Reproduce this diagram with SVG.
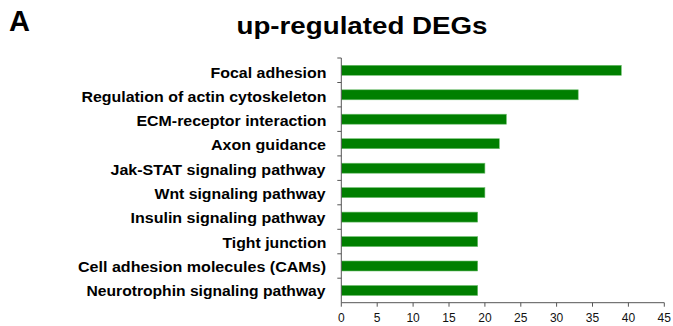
<svg xmlns="http://www.w3.org/2000/svg" width="673" height="326" viewBox="0 0 673 326">
  <style>
    .panel { font-family: "Liberation Sans", Arial, sans-serif; font-weight: bold; font-size: 29px; fill: #000; }
    .title { font-family: "Liberation Sans", Arial, sans-serif; font-weight: bold; font-size: 24px; fill: #000; }
    .cat { font-family: "Liberation Sans", Arial, sans-serif; font-weight: bold; font-size: 14.5px; fill: #000; text-anchor: end; }
    .tick-label { font-family: "Liberation Sans", Arial, sans-serif; font-size: 12px; fill: #111; text-anchor: middle; }
    .bar { fill: #007f00; stroke: #6fbf6f; stroke-width: 0.6; }
    .axis { stroke: #555; stroke-width: 1; fill: none; }
  </style>

  <text class="panel" x="9" y="31">A</text>
  <text class="title" x="236.5" y="33.5" textLength="251" lengthAdjust="spacingAndGlyphs">up-regulated DEGs</text>

  <!-- category labels -->
  <g id="labels">
    <text class="cat" x="326.5" y="77.5" textLength="116" lengthAdjust="spacingAndGlyphs">Focal adhesion</text>
    <text class="cat" x="326.5" y="101.8" textLength="245" lengthAdjust="spacingAndGlyphs">Regulation of actin cytoskeleton</text>
    <text class="cat" x="326.5" y="126.1" textLength="190" lengthAdjust="spacingAndGlyphs">ECM-receptor interaction</text>
    <text class="cat" x="326" y="150.4" textLength="115" lengthAdjust="spacingAndGlyphs">Axon guidance</text>
    <text class="cat" x="325.5" y="174.7" textLength="215" lengthAdjust="spacingAndGlyphs">Jak-STAT signaling pathway</text>
    <text class="cat" x="325.5" y="199.0" textLength="171" lengthAdjust="spacingAndGlyphs">Wnt signaling pathway</text>
    <text class="cat" x="325.5" y="223.3" textLength="195" lengthAdjust="spacingAndGlyphs">Insulin signaling pathway</text>
    <text class="cat" x="326.5" y="247.6" textLength="104" lengthAdjust="spacingAndGlyphs">Tight junction</text>
    <text class="cat" x="326" y="271.9" textLength="248" lengthAdjust="spacingAndGlyphs">Cell adhesion molecules (CAMs)</text>
    <text class="cat" x="325.5" y="296.2" textLength="239" lengthAdjust="spacingAndGlyphs">Neurotrophin signaling pathway</text>
  </g>

  <!-- bars: 7.18 px per unit from x=341.3 -->
  <g id="bars">
    <rect class="bar" x="341.3" y="65.3" width="280.0" height="10"/>
    <rect class="bar" x="341.3" y="89.8" width="236.9" height="10"/>
    <rect class="bar" x="341.3" y="114.2" width="165.1" height="10"/>
    <rect class="bar" x="341.3" y="138.7" width="158.0" height="10"/>
    <rect class="bar" x="341.3" y="163.2" width="143.6" height="10"/>
    <rect class="bar" x="341.3" y="187.6" width="143.6" height="10"/>
    <rect class="bar" x="341.3" y="212.1" width="136.4" height="10"/>
    <rect class="bar" x="341.3" y="236.6" width="136.4" height="10"/>
    <rect class="bar" x="341.3" y="261.0" width="136.4" height="10"/>
    <rect class="bar" x="341.3" y="285.5" width="136.4" height="10"/>
  </g>

  <!-- axes -->
  <g id="axes">
    <path class="axis" d="M341.3,58 V302.7 H664.3"/>
    <path class="axis" d="M337.3,58 H341.3 M337.3,82.5 H341.3 M337.3,106.9 H341.3 M337.3,131.4 H341.3 M337.3,155.9 H341.3 M337.3,180.4 H341.3 M337.3,204.8 H341.3 M337.3,229.3 H341.3 M337.3,253.8 H341.3 M337.3,278.2 H341.3"/>
    <path class="axis" d="M341.3,302.7 V306.7 M377.2,302.7 V306.7 M413.1,302.7 V306.7 M449.0,302.7 V306.7 M484.9,302.7 V306.7 M520.8,302.7 V306.7 M556.6,302.7 V306.7 M592.5,302.7 V306.7 M628.4,302.7 V306.7 M664.3,302.7 V306.7"/>
  </g>

  <g id="x-ticks">
    <text class="tick-label" x="341.3" y="321.5">0</text>
    <text class="tick-label" x="377.2" y="321.5">5</text>
    <text class="tick-label" x="413.1" y="321.5">10</text>
    <text class="tick-label" x="449.0" y="321.5">15</text>
    <text class="tick-label" x="484.9" y="321.5">20</text>
    <text class="tick-label" x="520.8" y="321.5">25</text>
    <text class="tick-label" x="556.6" y="321.5">30</text>
    <text class="tick-label" x="592.5" y="321.5">35</text>
    <text class="tick-label" x="628.4" y="321.5">40</text>
    <text class="tick-label" x="664.3" y="321.5">45</text>
  </g>
</svg>
